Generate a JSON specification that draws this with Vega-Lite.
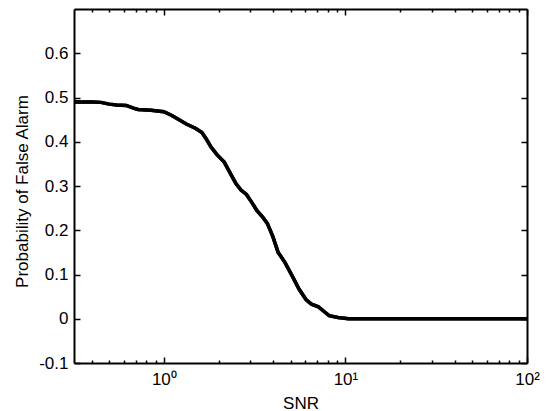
{
  "$schema": "https://vega.github.io/schema/vega-lite/v6.json",
  "autosize": {"type": "none"},
  "padding": {"left": 74, "top": 9, "right": 26, "bottom": 48},
  "width": 453,
  "height": 354,
  "background": "white",
  "config": {
    "view": {"stroke": null},
    "axis": {
      "domainColor": "black",
      "domainWidth": 2,
      "tickColor": "black",
      "tickWidth": 1.5,
      "grid": false,
      "labelFont": "Liberation Sans",
      "labelFontSize": 17,
      "labelColor": "black",
      "titleFont": "Liberation Sans",
      "titleFontSize": 17,
      "titleFontWeight": "normal",
      "titleColor": "black"
    }
  },
  "data": {
    "values": [
      {"snr": 0.32, "pfa": 0.490},
      {"snr": 0.40, "pfa": 0.490},
      {"snr": 0.45, "pfa": 0.489},
      {"snr": 0.50, "pfa": 0.485},
      {"snr": 0.55, "pfa": 0.483},
      {"snr": 0.62, "pfa": 0.482},
      {"snr": 0.68, "pfa": 0.476},
      {"snr": 0.72, "pfa": 0.473},
      {"snr": 0.85, "pfa": 0.471},
      {"snr": 1.00, "pfa": 0.468},
      {"snr": 1.10, "pfa": 0.460},
      {"snr": 1.20, "pfa": 0.451},
      {"snr": 1.33, "pfa": 0.440},
      {"snr": 1.50, "pfa": 0.430},
      {"snr": 1.62, "pfa": 0.421},
      {"snr": 1.72, "pfa": 0.405},
      {"snr": 1.82, "pfa": 0.388},
      {"snr": 1.95, "pfa": 0.372},
      {"snr": 2.15, "pfa": 0.354},
      {"snr": 2.30, "pfa": 0.332},
      {"snr": 2.49, "pfa": 0.306},
      {"snr": 2.66, "pfa": 0.291},
      {"snr": 2.85, "pfa": 0.281},
      {"snr": 3.05, "pfa": 0.263},
      {"snr": 3.25, "pfa": 0.245},
      {"snr": 3.50, "pfa": 0.230},
      {"snr": 3.72, "pfa": 0.215},
      {"snr": 3.98, "pfa": 0.186},
      {"snr": 4.26, "pfa": 0.150},
      {"snr": 4.65, "pfa": 0.127},
      {"snr": 5.09, "pfa": 0.097},
      {"snr": 5.57, "pfa": 0.066},
      {"snr": 6.08, "pfa": 0.043},
      {"snr": 6.50, "pfa": 0.033},
      {"snr": 7.10, "pfa": 0.027},
      {"snr": 7.60, "pfa": 0.017},
      {"snr": 8.13, "pfa": 0.007},
      {"snr": 9.10, "pfa": 0.003},
      {"snr": 10.4, "pfa": 0.000},
      {"snr": 12, "pfa": 0},
      {"snr": 20, "pfa": 0},
      {"snr": 50, "pfa": 0},
      {"snr": 100, "pfa": 0}
    ]
  },
  "layer": [
    {
      "mark": {"type": "line", "color": "black", "strokeWidth": 3.5, "clip": true},
      "encoding": {
        "x": {
          "field": "snr", "type": "quantitative",
          "scale": {"type": "log", "domain": [0.32, 100], "nice": false},
          "axis": {
            "orient": "bottom",
            "title": "SNR",
            "titleBaseline": "alphabetic",
            "titleY": 45,
            "values": [0.4, 0.5, 0.6, 0.7, 0.8, 0.9, 1, 2, 3, 4, 5, 6, 7, 8, 9, 10, 20, 30, 40, 50, 60, 70, 80, 90, 100],
            "labelExpr": "datum.value == 1 ? '10⁰' : datum.value == 10 ? '10¹' : datum.value == 100 ? '10²' : ''",
            "tickSize": {"condition": {"test": "datum.value == 1 || datum.value == 10 || datum.value == 100", "value": -6}, "value": -3},
            "labelPadding": 14,
            "labelFlush": false,
            "labelOverlap": false
          }
        },
        "y": {
          "field": "pfa", "type": "quantitative",
          "scale": {"domain": [-0.1, 0.7], "nice": false, "zero": false},
          "axis": {
            "orient": "left",
            "title": "Probability of False Alarm",
            "titleBaseline": "alphabetic",
            "titleX": -47,
            "titleY": 182,
            "values": [-0.1, 0, 0.1, 0.2, 0.3, 0.4, 0.5, 0.6],
            "labelExpr": "datum.value < 0 ? '-0.1' : format(datum.value, '.1~f')",
            "tickSize": -6,
            "labelPadding": 12,
            "labelFlush": false,
            "labelOverlap": false
          }
        }
      }
    },
    {
      "mark": {"type": "line", "color": "black", "strokeWidth": 3.5, "clip": true},
      "encoding": {
        "x": {
          "field": "snr", "type": "quantitative",
          "scale": {"type": "log", "domain": [0.32, 100], "nice": false},
          "axis": {
            "orient": "top",
            "title": null,
            "labels": false,
            "values": [0.4, 0.5, 0.6, 0.7, 0.8, 0.9, 1, 2, 3, 4, 5, 6, 7, 8, 9, 10, 20, 30, 40, 50, 60, 70, 80, 90, 100],
            "tickSize": {"condition": {"test": "datum.value == 1 || datum.value == 10 || datum.value == 100", "value": -6}, "value": -3}
          }
        },
        "y": {
          "field": "pfa", "type": "quantitative",
          "scale": {"domain": [-0.1, 0.7], "nice": false, "zero": false},
          "axis": {
            "orient": "right",
            "title": null,
            "labels": false,
            "values": [-0.1, 0, 0.1, 0.2, 0.3, 0.4, 0.5, 0.6],
            "tickSize": -6
          }
        }
      }
    }
  ],
  "resolve": {"axis": {"x": "independent", "y": "independent"}}
}
